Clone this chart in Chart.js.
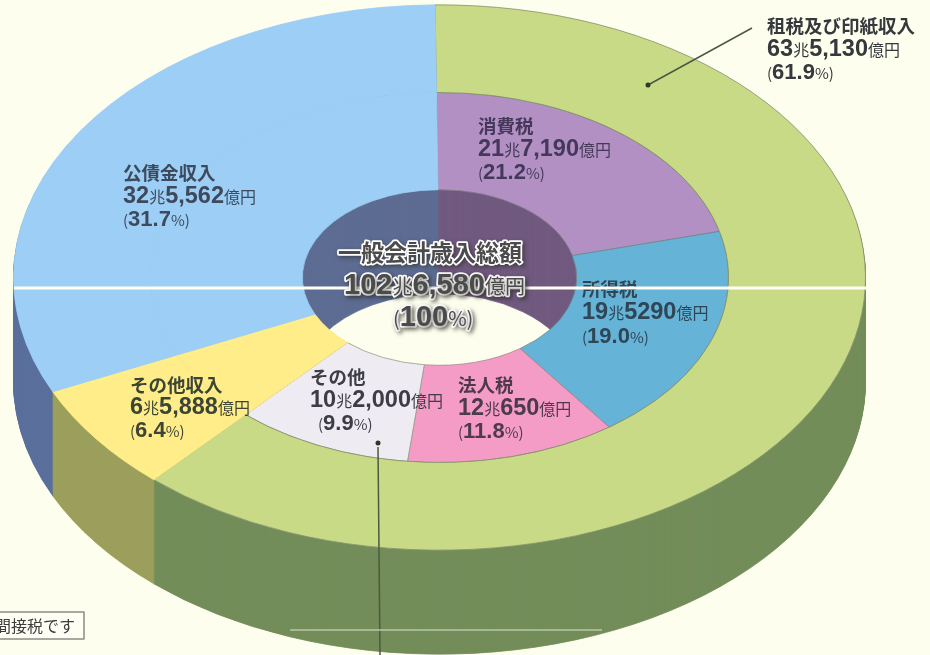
<!DOCTYPE html>
<html lang="ja">
<head>
<meta charset="utf-8">
<title>一般会計歳入総額</title>
<script src="https://cdn.jsdelivr.net/npm/chart.js@4"></script>
<style>
  html, body { margin: 0; padding: 0; background: #fefeef; }
  canvas { display: block; }
</style>
</head>
<body>
<canvas id="pie" width="930" height="655"></canvas>
<script>
// 外側のリング
const outerNames = ['租税及び印紙収入', 'その他収入', '公債金収入'];
const outerValues = [635130, 65888, 325562];
const outerColors = ['#c8da86', '#feed88', '#9dcff6'];
const outerWalls = ['#738d5a', '#9c9f5c', '#5b6f9c'];

// 内側のリング（その他収入と公債金収入は外側から続く）
const innerNames = ['消費税', '所得税', '法人税', 'その他', 'その他収入', '公債金収入'];
const innerValues = [217190, 195290, 120650, 102000, 65888, 325562];
const innerColors = ['#b290c4', '#65b3d6', '#f59cc6', '#eeecf2', '#feed88', '#9dcff6'];
const innerWalls = ['#715a80', '#715a80', '#715a80', '#715a80', '#5d6c92', '#5d6c92'];
const innerEdges = ['#85808a', '#6f8c8f', '#a88a90', '#9aa08a', '#feed88', '#9dcff6'];

// ラベル
const labelTexts = [
  ['租税及び印紙収入', '63兆5,130億円', '(61.9%)'],
  ['公債金収入', '32兆5,562億円', '(31.7%)'],
  ['消費税', '21兆7,190億円', '(21.2%)'],
  ['所得税', '19兆5290億円', '(19.0%)'],
  ['法人税', '12兆650億円', '(11.8%)'],
  ['その他', '10兆2,000億円', '(9.9%)'],
  ['その他収入', '6兆5,888億円', '(6.4%)']
];
const centerTexts = ['一般会計歳入総額', '102兆6,580億円', '(100%)'];
const noteText = '間接税です';

// ラベルの置き場所 [x, 1行目y, 行間, 色]
const labelSpots = [
  [767, 26, 23.5, '#35383c'],
  [123, 173, 23.5, '#3d4a5c'],
  [478, 126, 23.5, '#45385a'],
  [582, 289, 24, '#2f4656'],
  [458, 385, 23.5, '#4e3a4c'],
  [310, 377, 23.5, '#3e3d46'],
  [130, 385, 23, '#3c4436']
];

const squash = 0.64;   // 楕円のつぶし率
const depth = 104;     // 側面の厚み
const bandLines = [[14, 866, 288, 3, '#fffff4'], [290, 602, 630, 1.5, '#b9c6a6']];

function flatten(ctx, cy, dy) {
  ctx.translate(0, cy + dy);
  ctx.scale(1, squash);
  ctx.translate(0, -cy);
}

// 数字は大きく、単位は小さく
function drawRuns(ctx, text, x, y, big, color, outline) {
  const parts = text.match(/[兆億円%()]+|[^兆億円%()]+/g);
  parts.forEach(function(p) {
    const small = /[兆億円%()]/.test(p);
    ctx.font = small ? 'normal ' + Math.round(big * 0.68) + 'px "Noto Sans CJK JP"' : 'bold ' + big + 'px "Liberation Sans"';
    if (outline) ctx.strokeText(p, x, y);
    ctx.fillStyle = color;
    ctx.fillText(p, x, y);
    x += ctx.measureText(p).width;
  });
}

const ringPlugin = {
  id: 'ring',
  beforeDatasetsDraw(chart) {
    const ctx = chart.ctx;
    const cy = (chart.chartArea.top + chart.chartArea.bottom) / 2;
    const metas = [chart.getDatasetMeta(1), chart.getDatasetMeta(0)];
    const walls = [innerWalls, outerWalls];
    // 下から順に重ねて側面を作る
    for (let d = depth; d > 0; d--) {
      ctx.save();
      flatten(ctx, cy, d);
      metas.forEach(function(meta, m) {
        meta.data.forEach(function(arc, i) {
          const keep = arc.options;
          arc.options = Object.assign({}, keep, {backgroundColor: walls[m][i], borderColor: walls[m][i], borderWidth: 1});
          arc.draw(ctx);
          arc.options = keep;
        });
      });
      ctx.restore();
    }
    ctx.save();
    flatten(ctx, cy, 0);
  },
  afterDatasetsDraw(chart) {
    chart.ctx.restore();
  },
  afterDraw(chart) {
    const ctx = chart.ctx;
    ctx.save();

    // 引き出し線
    ctx.strokeStyle = '#4a5a40';
    ctx.fillStyle = '#2c3a26';
    ctx.lineWidth = 1.5;
    ctx.beginPath();
    ctx.moveTo(752, 28);
    ctx.lineTo(648, 85);
    ctx.moveTo(378, 447);
    ctx.lineTo(380, 655);
    ctx.stroke();
    ctx.beginPath();
    ctx.arc(648, 85, 2.5, 0, Math.PI * 2);
    ctx.arc(378, 443, 2.5, 0, Math.PI * 2);
    ctx.fill();

    // ラベル
    ctx.textBaseline = 'middle';
    ctx.textAlign = 'left';
    labelTexts.forEach(function(lines, i) {
      const s = labelSpots[i];
      ctx.fillStyle = s[3];
      ctx.font = 'bold 18.5px "Noto Sans CJK JP"';
      ctx.fillText(lines[0], s[0], s[1]);
      drawRuns(ctx, lines[1], s[0], s[1] + s[2], 23.5, s[3]);
      drawRuns(ctx, lines[2], s[0] + (i === 5 ? 8 : 0), s[1] + s[2] * 2, 22, s[3]);
    });

    // 折り目の白い線
    bandLines.forEach(function(b) {
      ctx.fillStyle = b[4];
      ctx.fillRect(b[0], b[2] - b[3] / 2, b[1] - b[0], b[3]);
    });

    // 中央の文字
    ctx.strokeStyle = '#ffffff';
    ctx.lineWidth = 3.5;
    ctx.lineJoin = 'round';
    ctx.shadowColor = 'rgba(40,40,30,0.55)';
    ctx.shadowBlur = 4;
    ctx.shadowOffsetX = 2;
    ctx.shadowOffsetY = 2;
    ctx.textAlign = 'left';
    ctx.font = 'bold 23px "Noto Sans CJK JP"';
    ctx.strokeText(centerTexts[0], 338, 252);
    ctx.shadowColor = 'transparent';
    ctx.fillStyle = '#4b4b4b';
    ctx.fillText(centerTexts[0], 338, 252);
    ctx.shadowColor = 'rgba(40,40,30,0.55)';
    drawRuns(ctx, centerTexts[1], 344, 286, 29, '#4b4b4b', true);
    drawRuns(ctx, centerTexts[2], 393, 318, 29, '#4b4b4b', true);
    ctx.shadowColor = 'transparent';

    // 左下の枠
    ctx.fillStyle = '#fefef4';
    ctx.fillRect(-2, 612, 86, 27);
    ctx.strokeStyle = '#8c8c88';
    ctx.lineWidth = 1.5;
    ctx.strokeRect(-2, 612, 86, 27);
    ctx.fillStyle = '#3c3c3c';
    ctx.font = 'normal 16px "Noto Sans CJK JP"';
    ctx.textAlign = 'right';
    ctx.fillText(noteText, 75, 626);
    ctx.restore();
  }
};

new Chart(document.getElementById('pie').getContext('2d'), {
  type: 'doughnut',
  data: {
    labels: innerNames,
    datasets: [
      {
        label: '外側',
        data: outerValues,
        backgroundColor: outerColors,
        borderColor: ['#86936c', '#feed88', '#9dcff6'],
        borderWidth: 1,
        weight: 137,
        clip: false
      },
      {
        label: '内側',
        data: innerValues,
        backgroundColor: innerColors,
        borderColor: innerEdges,
        borderWidth: 1,
        weight: 152,
        clip: false
      }
    ]
  },
  options: {
    responsive: false,
    animation: false,
    radius: 426,
    cutout: '32.2%',
    rotation: -0.6,
    layout: { padding: { right: 51, bottom: 100 } },
    plugins: { legend: { display: false }, tooltip: { enabled: false } }
  },
  plugins: [ringPlugin]
});
</script>
</body>
</html>
